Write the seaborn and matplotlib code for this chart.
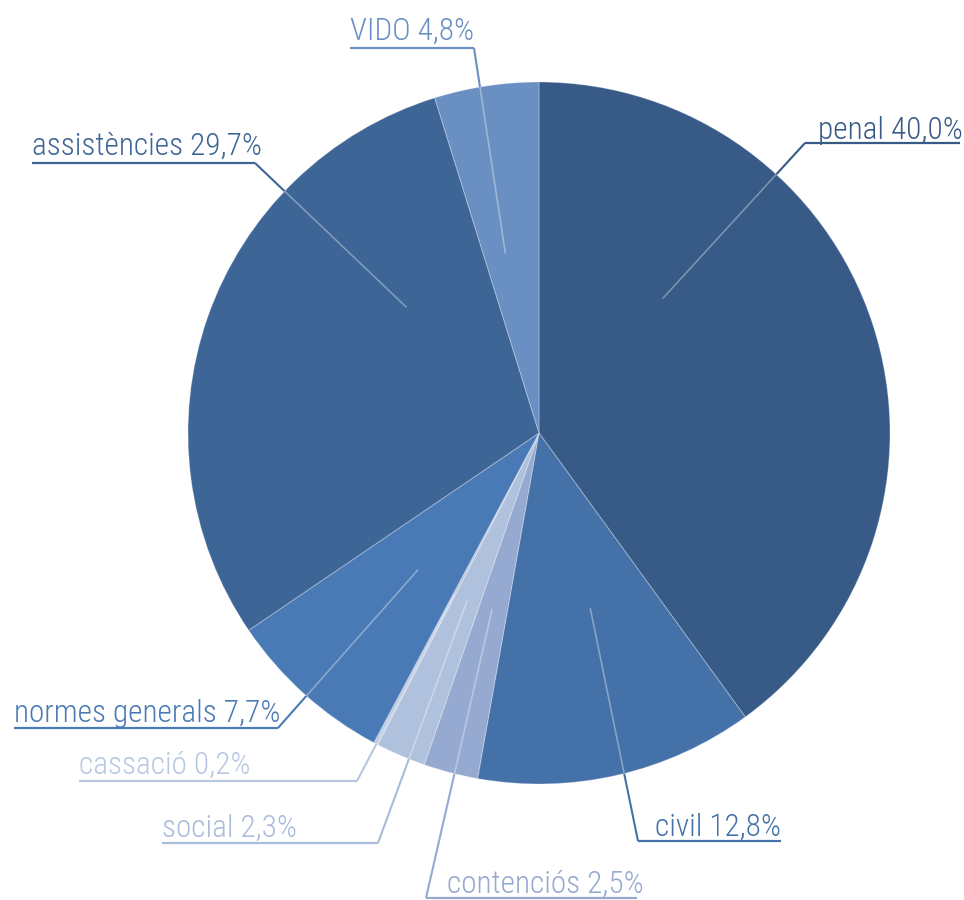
import numpy as np
import matplotlib
matplotlib.use("Agg")
import matplotlib.pyplot as plt
import seaborn as sns

# ---- data ----
categories = ["penal", "civil", "contenciós", "social", "cassació",
              "normes generals", "assistències", "VIDO"]
shares = [40.0, 12.8, 2.5, 2.3, 0.2, 7.7, 29.7, 4.8]
slice_colors = ["#375a87", "#4472a8", "#95a9d1", "#b0c1dd", "#b6c5e0",
                "#4a7ab5", "#3d6596", "#6a8fc3"]
text_colors = ["#375a87", "#4472a8", "#95a9d1", "#a9bcdb", "#b8c7e2",
               "#4a7ab5", "#3d6596", "#6a8fc3"]

sns.set_theme(style="white")
plt.rcParams["font.family"] = ["Roboto Condensed", "DejaVu Sans"]

W, H, DPI = 964, 900, 100
fig = plt.figure(figsize=(W / DPI, H / DPI), dpi=DPI)
ax = fig.add_axes([0, 0, 1, 1])

R_PX = 351.0
CX, CY = 539.0, 433.0

ax.pie(shares, colors=slice_colors, startangle=90, counterclock=False,
       radius=1.0, center=(0, 0),
       wedgeprops=dict(edgecolor=(1, 1, 1, 0.25), linewidth=0.8))
ax.set_xlim(-CX / R_PX, (W - CX) / R_PX)
ax.set_ylim(-(H - CY) / R_PX, CY / R_PX)
ax.set_aspect("equal")
ax.axis("off")


def px(x, y):
    return (x - CX) / R_PX, -(y - CY) / R_PX


# label layout (pixels): anchor angle (deg clockwise from north), elbow,
# text start x, baseline y, underline x0, x1
layout = {
    "penal":           (42.6, (805, 143), 818, 139, 805, 960),
    "civil":           (163.7, (638, 841), 655, 836, 638, 781),
    "contenciós":      (194.9, (426, 898), 447, 893, 426, 637),
    "social":          (203.2, (378, 843), 162, 837, 162, 378),
    "cassació":        (207.6, (357, 781), 79, 774, 79, 357),
    "normes generals": (221.5, (278, 728), 14, 722, 14, 278),
    "assistències":    (313.5, (255, 163), 32, 155, 32, 255),
    "VIDO":            (349.4, (474, 48), 350, 40, 350, 474),
}

for cat, val, tc in zip(categories, shares, text_colors):
    ang, (exp, eyp), tx, ty, u0, u1 = layout[cat]
    a = np.deg2rad(ang)
    A = np.array([0.52 * np.sin(a), 0.52 * np.cos(a)])
    E = np.array(px(exp, eyp))
    d = E - A
    qa = d @ d
    qb = 2 * A @ d
    qc = A @ A - 1
    t = (-qb + np.sqrt(qb * qb - 4 * qa * qc)) / (2 * qa)
    B = A + t * d
    ax.plot([A[0], B[0]], [A[1], B[1]], color=(1, 1, 1, 0.35), lw=1.2,
            solid_capstyle="butt", zorder=3)
    ax.plot([B[0], E[0]], [B[1], E[1]], color=tc, lw=1.5,
            solid_capstyle="butt", zorder=3)
    x0, y0 = px(u0, eyp)
    x1, _ = px(u1, eyp)
    ax.plot([x0, x1], [y0, y0], color=tc, lw=1.6, solid_capstyle="butt",
            zorder=3)
    label = f"{cat} {val:.1f}%".replace(".", ",")
    lx, ly = px(tx, ty)
    ax.text(lx, ly, label, color=tc, fontsize=22.5, fontweight="light",
            ha="left", va="baseline", zorder=4)

fig.savefig("out.png", dpi=DPI)
